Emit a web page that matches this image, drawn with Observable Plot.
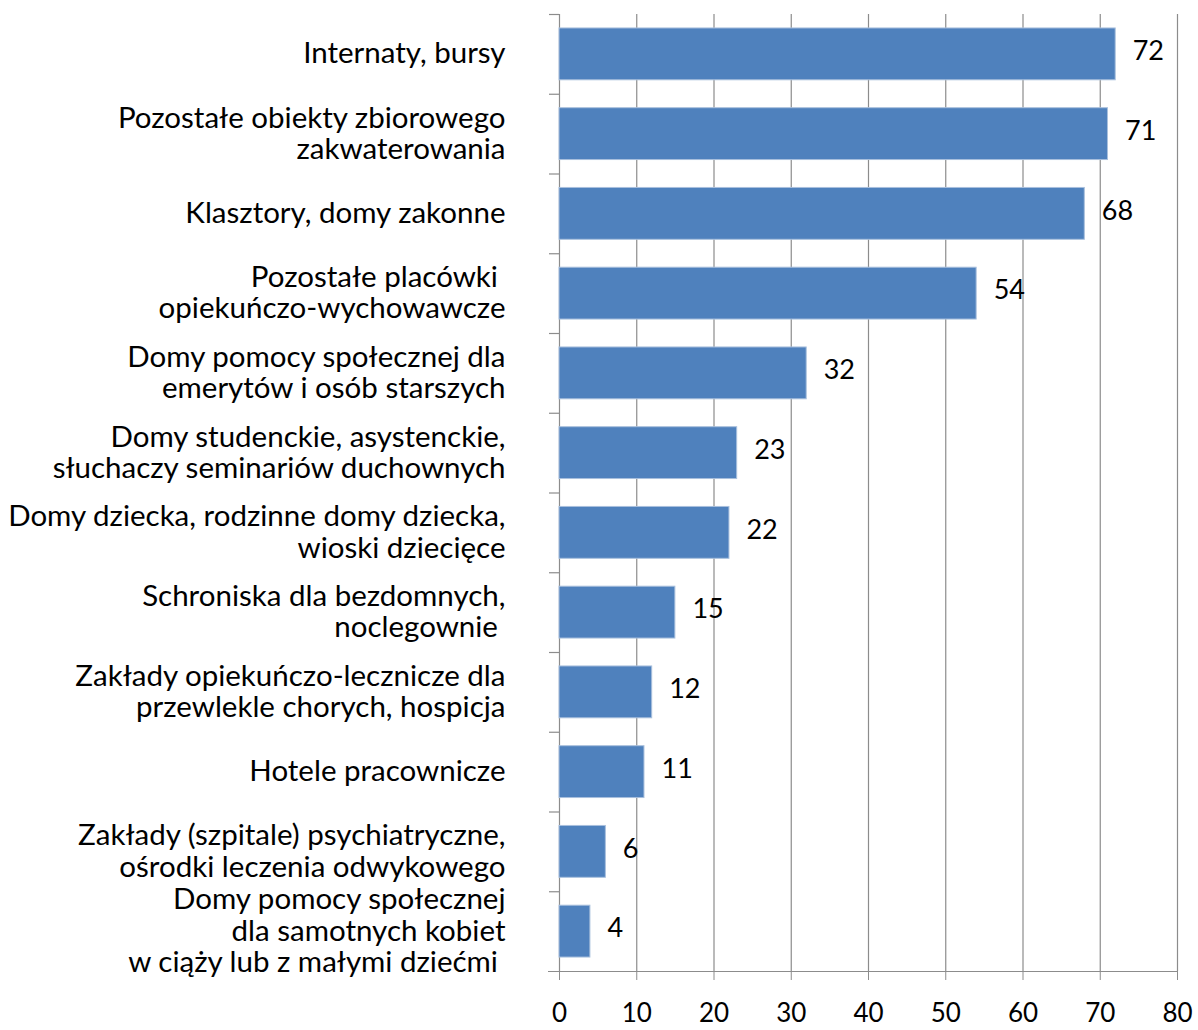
<!DOCTYPE html>
<html><head><meta charset="utf-8">
<script src="https://cdn.jsdelivr.net/npm/d3@7"></script>
<script src="https://cdn.jsdelivr.net/npm/@observablehq/plot@0.6"></script>
<style>body{margin:0;background:#fff}</style>
</head><body><div id="chart"></div>
<script>
const categories = [
  "Internaty, bursy",
  "Pozostałe obiekty zbiorowego\nzakwaterowania",
  "Klasztory, domy zakonne",
  "Pozostałe placówki\u00a0\nopiekuńczo-wychowawcze",
  "Domy pomocy społecznej dla\nemerytów i osób starszych",
  "Domy studenckie, asystenckie,\nsłuchaczy seminariów duchownych",
  "Domy dziecka, rodzinne domy dziecka,\nwioski dziecięce",
  "Schroniska dla bezdomnych,\nnoclegownie\u00a0",
  "Zakłady opiekuńczo-lecznicze dla\nprzewlekle chorych, hospicja",
  "Hotele pracownicze",
  "Zakłady (szpitale) psychiatryczne,\nośrodki leczenia odwykowego",
  "Domy pomocy społecznej\ndla samotnych kobiet\nw ciąży lub z małymi dziećmi\u00a0"
];
const values = [72, 71, 68, 54, 32, 23, 22, 15, 12, 11, 6, 4];
const xTicks = [0, 10, 20, 30, 40, 50, 60, 70, 80];

const data = categories.map((c, i) => ({category: c, value: values[i]}));
const W = 1198, H = 1030, mt = 14, mb = 59, ml = 559, mr = 21;
const step = (H - mt - mb) / categories.length;
const grid = "#8c8c8c";
const font = "Lato";

const chart = Plot.plot({
  width: W, height: H,
  marginLeft: ml, marginRight: mr, marginTop: mt, marginBottom: mb,
  style: {fontFamily: font, fontSize: "27px", color: "#000", background: "#fff"},
  x: {domain: [0, 80], ticks: xTicks, label: null},
  y: {domain: categories, paddingInner: 0.35, paddingOuter: 0.175, round: false, label: null},
  marks: [
    Plot.ruleX(xTicks, {stroke: grid, strokeWidth: 1.2}),
    Plot.ruleY(categories, {x1: 0, x2: 0, insetLeft: -10, dy: -step / 2, stroke: grid, strokeWidth: 1.2}),
    Plot.ruleY([categories[categories.length - 1]], {x1: 0, x2: 80, insetLeft: -11, dy: step / 2, stroke: grid, strokeWidth: 1.2}),
    Plot.barX(data, {x: "value", y: "category", fill: "#4f81bd", stroke: "#a9c0dd", strokeWidth: 1}),
    Plot.text(data, {x: "value", y: "category", text: d => String(d.value), textAnchor: "start", dx: 17, dy: -3, fontSize: 27, fill: "#000"}),
    Plot.axisX({ticks: xTicks, tickSize: 9, tickPadding: 23, fontSize: 26, stroke: grid, label: null, fill: "#000"}),
    Plot.axisY({tickSize: 0, tickPadding: 54, fontSize: 29.5, lineHeight: 1.06, dy: -1, label: null, fill: "#000"})
  ]
});
document.getElementById("chart").appendChild(chart);
</script>
</body></html>
